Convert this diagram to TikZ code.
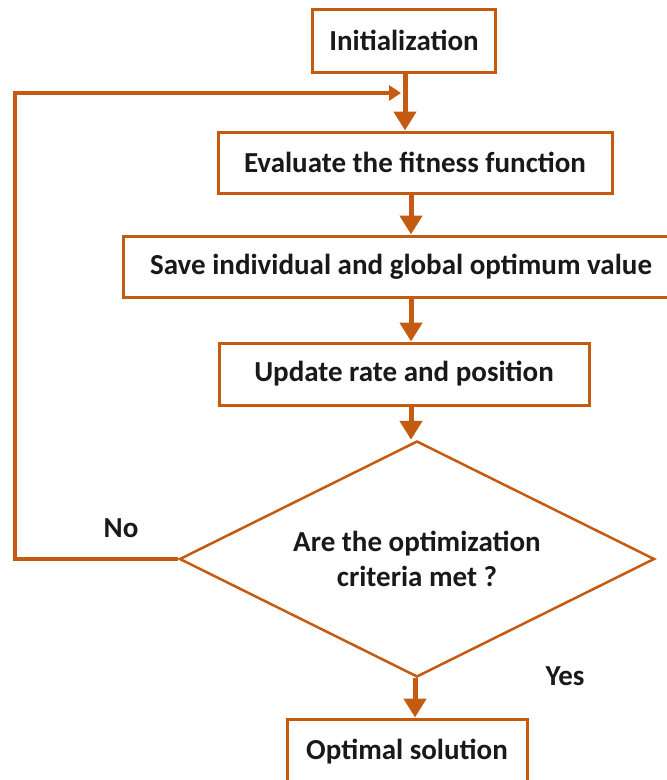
\documentclass[tikz,border=0pt]{standalone}
\usepackage{fontspec}
\setmainfont{Carlito}
\usetikzlibrary{shapes.geometric,arrows.meta}
\definecolor{flow}{RGB}{197,90,17}
\begin{document}
\begin{tikzpicture}[x=1pt,y=-1pt,
  every node/.style={font=\bfseries\fontsize{29}{35}\selectfont, text=black!90},
  stepbox/.style={draw=flow, line width=3pt, fill=white, inner sep=0pt, anchor=center},
  decision/.style={draw=flow, line width=2.5pt, diamond, aspect=2, inner sep=0pt,
    minimum width=475pt, minimum height=236pt, align=center},
  flowarrow/.style={draw=flow, line width=5pt, -{Triangle[width=22pt,length=19pt]}},
  looparrow/.style={draw=flow, line width=4pt, -{Triangle[width=15pt,length=12pt]}},
  label/.style={font=\bfseries\fontsize{29}{35}\selectfont}]
\useasboundingbox (0,0) rectangle (667,780);

% process steps
\node[stepbox, minimum width=183pt, minimum height=63pt] (init) at (404,40.5) {Initialization};
\node[stepbox, minimum width=394pt, minimum height=61pt] (eval) at (415,162.5) {Evaluate the fitness function};
\node[stepbox, minimum width=556pt, minimum height=61pt] (save) at (401,266.5) {Save individual and global optimum value};
\node[stepbox, minimum width=370pt, minimum height=62pt] (upd) at (404,374) {Update rate and position};
\node[decision] (dec) at (417,559) {Are the optimization\\criteria met ?};
\node[stepbox, minimum width=240pt, minimum height=66pt] (opt) at (407,752) {Optimal solution};

% branch labels
\node[label] (no) at (121,528) {No};
\node[label] (yes) at (565,676) {Yes};

% main flow
\coordinate (a1) at (405,0);
\coordinate (a2) at (411,0);
\coordinate (a3) at (415,0);
\draw[flowarrow] (init.south -| a1) -- (eval.north -| a1);
\draw[flowarrow] (eval.south -| a2) -- (save.north -| a2);
\draw[flowarrow] (save.south -| a2) -- (upd.north -| a2);
\draw[flowarrow] (upd.south -| a2) -- (dec.north -| a2);
\draw[flowarrow] (dec.south -| a3) -- (opt.north -| a3);

% loop back when the criteria are not met
\coordinate (loopL) at (15,93);
\coordinate (loopR) at (401,93);
\draw[looparrow] (dec.west) -| (loopL) -- (loopR);
\end{tikzpicture}
\end{document}
